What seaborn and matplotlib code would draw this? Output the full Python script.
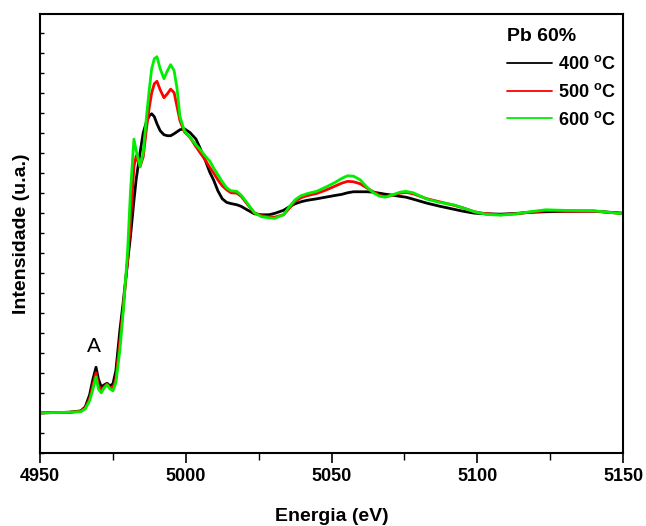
import numpy as np
import pandas as pd
import matplotlib
matplotlib.use('Agg')
import matplotlib.pyplot as plt
from matplotlib.ticker import MultipleLocator
import seaborn as sns

# valores (intensidade normalizada: pré-borda = 0, pós-borda = 1)
energia = [4950, 4960, 4964, 4965.5, 4967, 4968, 4969.2, 4970, 4971, 4972, 4973, 4974, 4975,
           4976, 4977.4, 4978.5, 4980, 4981, 4982.2, 4983, 4984.3, 4985.4, 4986.5, 4987.5,
           4988.3, 4989.2, 4990.1, 4991.2, 4992.5, 4993.7, 4994.8, 4996, 4997, 4998, 4999.5,
           5001.5, 5003.5, 5005, 5006.6, 5008.3, 5009.5, 5011, 5012.5, 5014, 5015.5, 5017.5,
           5019, 5021, 5023.5, 5026, 5028.5, 5030.5, 5033.5, 5035.5, 5037.5, 5039.5, 5041.5,
           5045, 5048, 5051, 5053.5, 5055.5, 5057.5, 5059.8, 5062, 5064.3, 5066.4, 5068.4,
           5071, 5073.5, 5075.5, 5078, 5082.7, 5087, 5091.8, 5095, 5099, 5103, 5108, 5113.5,
           5118, 5123.5, 5130, 5140, 5150]

int_400 = [0.0, 0.003, 0.01, 0.03, 0.09, 0.16, 0.228, 0.17, 0.13, 0.14, 0.148, 0.135, 0.145,
           0.21, 0.415, 0.55, 0.75, 0.88, 1.06, 1.17, 1.30, 1.40, 1.455, 1.485,
           1.495, 1.48, 1.445, 1.41, 1.39, 1.385, 1.385, 1.395, 1.405, 1.415, 1.42,
           1.40, 1.368, 1.32, 1.265, 1.20, 1.165, 1.11, 1.07, 1.052, 1.046, 1.04,
           1.032, 1.015, 0.995, 0.99, 0.99, 0.997, 1.012, 1.03, 1.045, 1.055, 1.062,
           1.07, 1.078, 1.086, 1.092, 1.10, 1.105, 1.105, 1.105, 1.103, 1.098, 1.093,
           1.088, 1.082, 1.078, 1.068, 1.048, 1.033, 1.018, 1.008, 0.998, 0.995, 0.993, 0.997,
           1.002, 1.005, 1.007, 1.008, 0.998]

int_500 = [0.0, 0.003, 0.008, 0.025, 0.07, 0.13, 0.20, 0.14, 0.11, 0.13, 0.145, 0.125, 0.125,
           0.17, 0.36, 0.52, 0.76, 0.95, 1.23, 1.285, 1.23, 1.28, 1.42, 1.53,
           1.60, 1.645, 1.657, 1.615, 1.575, 1.595, 1.618, 1.60, 1.53, 1.46, 1.405,
           1.375, 1.33, 1.298, 1.265, 1.225, 1.20, 1.165, 1.135, 1.115, 1.10, 1.098,
           1.082, 1.045, 1.0, 0.985, 0.98, 0.978, 0.99, 1.022, 1.057, 1.075, 1.085,
           1.097, 1.113, 1.132, 1.148, 1.157, 1.155, 1.145, 1.125, 1.105, 1.087, 1.08,
           1.088, 1.098, 1.102, 1.095, 1.07, 1.055, 1.038, 1.025, 1.005, 0.995, 0.99, 0.995,
           1.003, 1.01, 1.008, 1.008, 0.996]

int_600 = [0.0, 0.003, 0.006, 0.02, 0.06, 0.11, 0.18, 0.12, 0.10, 0.125, 0.14, 0.12, 0.11,
           0.15, 0.315, 0.50, 0.80, 1.10, 1.368, 1.31, 1.23, 1.30, 1.48, 1.62,
           1.72, 1.77, 1.78, 1.72, 1.67, 1.71, 1.74, 1.71, 1.62, 1.48, 1.41,
           1.375, 1.34, 1.315, 1.285, 1.257, 1.225, 1.19, 1.155, 1.125, 1.11, 1.107,
           1.088, 1.05, 1.0, 0.98, 0.975, 0.972, 0.99, 1.03, 1.065, 1.085, 1.095,
           1.108, 1.128, 1.15, 1.172, 1.185, 1.183, 1.165, 1.13, 1.10, 1.083, 1.078,
           1.09, 1.103, 1.107, 1.10, 1.068, 1.052, 1.04, 1.025, 1.005, 0.992, 0.988, 0.995,
           1.005, 1.015, 1.012, 1.01, 0.995]

rotulos = ['400 $^{\\mathbf{o}}$C', '500 $^{\\mathbf{o}}$C', '600 $^{\\mathbf{o}}$C']
cores = ['black', '#ff0000', '#00ee00']

df = pd.concat([
    pd.DataFrame({'energia': energia, 'intensidade': int_400, 'amostra': rotulos[0]}),
    pd.DataFrame({'energia': energia, 'intensidade': int_500, 'amostra': rotulos[1]}),
    pd.DataFrame({'energia': energia, 'intensidade': int_600, 'amostra': rotulos[2]}),
])

sns.set_style('ticks')
plt.rcParams['font.family'] = ['Liberation Sans', 'DejaVu Sans']
plt.rcParams['mathtext.fontset'] = 'custom'
plt.rcParams['mathtext.rm'] = 'Liberation Sans'
plt.rcParams['mathtext.bf'] = 'Liberation Sans:bold'
for k in ['text.color', 'axes.labelcolor', 'xtick.color', 'ytick.color', 'axes.edgecolor']:
    plt.rcParams[k] = 'black'

fig = plt.figure(figsize=(6.46, 5.26), dpi=100)
ax = fig.add_axes([0.062, 0.139, 0.9025, 0.835])

sns.lineplot(data=df, x='energia', y='intensidade', hue='amostra',
             palette=dict(zip(rotulos, cores)), linewidth=2.0, ax=ax, sort=False)

ax.set_xlim(4950, 5150)
ax.set_ylim(-0.2, 1.995)
ax.xaxis.set_major_locator(MultipleLocator(50))
ax.xaxis.set_minor_locator(MultipleLocator(25))
ax.yaxis.set_major_locator(MultipleLocator(0.1))
ax.set_yticklabels([])
ax.tick_params(axis='x', which='major', direction='out', length=7, width=1.2,
               labelsize=13, pad=4)
ax.tick_params(axis='x', which='minor', direction='out', length=5, width=1.0)
ax.tick_params(axis='y', which='major', direction='in', length=3, width=1.0)
for lab in ax.get_xticklabels():
    lab.set_fontweight('bold')
for s in ax.spines.values():
    s.set_linewidth(1.5)
    s.set_color('black')

ax.set_xlabel('Energia (eV)', fontsize=14, fontweight='bold')
ax.xaxis.label.set_va('baseline')
ax.xaxis.set_label_coords(0.5, -0.155)
ax.set_ylabel('Intensidade (u.a.)', fontsize=14, fontweight='bold', labelpad=4)

ax.text(4968.3, 0.33, 'A', fontsize=15, ha='center', va='center')

leg = ax.legend(title='Pb 60%', frameon=False, loc='upper left',
                bbox_to_anchor=(507 / 646, 1 - 28 / 526), bbox_transform=fig.transFigure,
                prop={'weight': 'bold', 'size': 13},
                handlelength=2.5, handletextpad=0.3, labelspacing=0.55,
                borderpad=0, borderaxespad=0)
leg.get_title().set_fontweight('bold')
leg.get_title().set_fontsize(14)
leg._legend_box.align = 'left'
for h in leg.get_lines():
    h.set_linewidth(1.3)

fig.savefig('out.png', dpi=100)
